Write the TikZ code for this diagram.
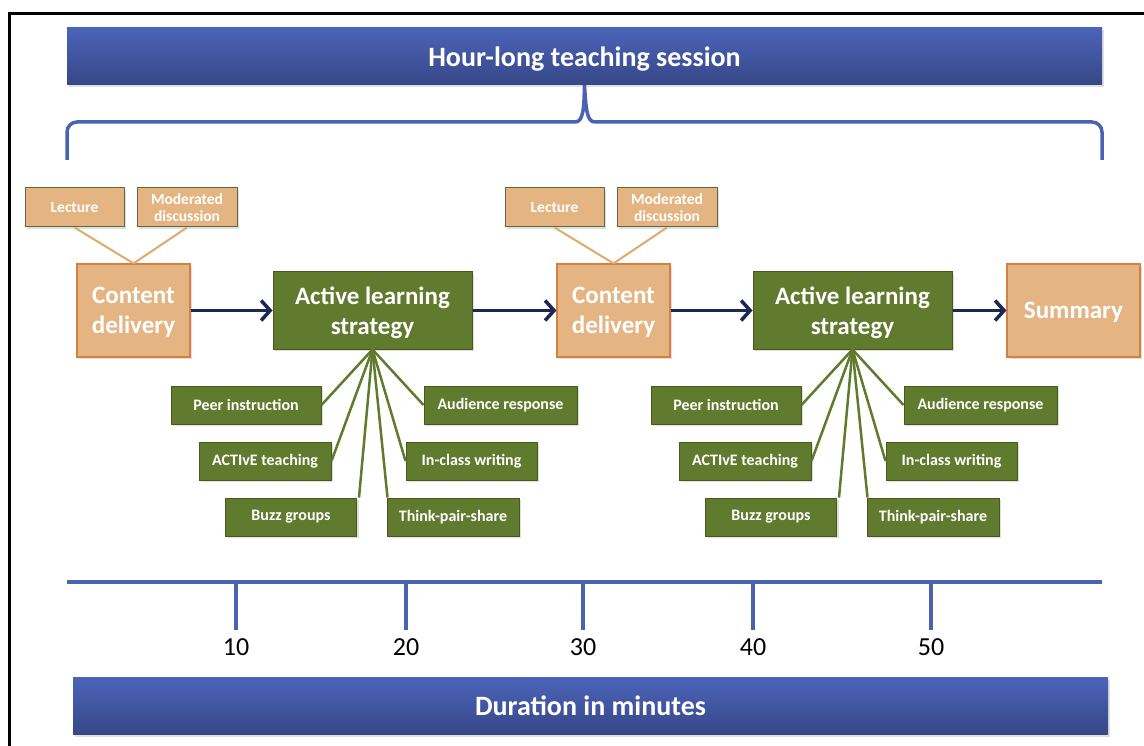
\documentclass[tikz,border=0pt]{standalone}
\usepackage{fontspec}
\setmainfont{Carlito}
\usetikzlibrary{arrows.meta,shadows}

\definecolor{barTop}{HTML}{4B64B9}
\definecolor{barBot}{HTML}{374787}
\definecolor{barLine}{HTML}{4A62B0}
\definecolor{tanFill}{HTML}{E4B582}
\definecolor{tanEdge}{HTML}{D68040}
\definecolor{tanLine}{HTML}{DEAA6E}
\definecolor{oliveEdge}{HTML}{5E6B34}
\definecolor{greenFill}{HTML}{607A2E}
\definecolor{greenEdge}{HTML}{465A1E}
\definecolor{navyArrow}{HTML}{1E2652}

\begin{document}
\begin{tikzpicture}[x=1pt,y=-1pt,
    shade/.style={drop shadow={shadow xshift=2pt,shadow yshift=-2pt,opacity=.25}},
    bar/.style={top color=barTop,bottom color=barBot,draw=none,shade,
      minimum width=1035pt,minimum height=57pt,inner sep=0pt,text depth=0pt,
      text=white,font=\fontsize{28}{32}\selectfont\bfseries},
    option/.style={fill=tanFill,draw=oliveEdge,line width=1pt,shade,
      minimum width=99pt,minimum height=39pt,inner sep=0pt,align=center,
      text=white,font=\fontsize{15.5}{18}\selectfont\bfseries},
    phase/.style={fill=tanFill,draw=tanEdge,line width=1.2pt,shade,
      minimum width=113pt,minimum height=93pt,inner sep=0pt,align=center,
      text depth=0pt,text=white,font=\fontsize{25}{29.5}\selectfont\bfseries},
    active/.style={fill=greenFill,draw=greenEdge,line width=1pt,shade,
      minimum width=199pt,minimum height=77pt,inner sep=0pt,align=center,
      text depth=0pt,text=white,font=\fontsize{25}{29.5}\selectfont\bfseries},
    method/.style={fill=greenFill,draw=greenEdge,line width=1pt,shade,
      minimum height=38pt,inner sep=0pt,
      text=white,font=\fontsize{16}{19}\selectfont\bfseries},
    flow/.style={navyArrow,line width=3.5pt,-{Straight Barb[length=9pt,width=20pt]}},
    spoke/.style={greenFill,line width=2.5pt},
    feed/.style={tanLine,line width=2pt}]
  \clip (0,0) rectangle (1144,746);
  \fill[white] (0,0) rectangle (1144,746);
  \draw[line width=3pt] (9.5,13.5) rectangle (1170,770);

  % session header and its brace
  \node[bar] (session) at (584.5,56.5) {Hour-long teaching session};
  \draw[barLine,line width=3.5pt,rounded corners=10pt] (67,160) |- (575,122);
  \draw[barLine,line width=3.5pt] (575,122) .. controls (583,122) and (584,110) .. (session.south)
    .. controls (586,110) and (587,122) .. (595,122);
  \draw[barLine,line width=3.5pt,rounded corners=10pt] (595,122) -| (1102,160);

  % the two content / active learning pairs
  \foreach \i/\dx in {1/0,2/480}{
    \node[option] (lec\i) at (74.5+\dx,207.5) {Lecture};
    \node[option,minimum width=100pt,text depth=0pt] (mod\i) at (187+\dx,207.5)
      {Moderated\\[-1pt]discussion};
    \node[phase] (cd\i) at (133.5+\dx,310.5) {Content\\delivery};
    \node[active] (als\i) at (372.5+\dx,310.5) {Active learning\\strategy};
    \draw[feed] (lec\i.south) -- (cd\i.north);
    \draw[feed] (mod\i.south) -- (cd\i.north);
    \draw[flow] (cd\i) -- (als\i);

    \node[method,minimum width=150pt] (peer\i) at (246+\dx,405) {Peer instruction};
    \node[method,minimum width=153pt] (aud\i) at (500.5+\dx,405) {Audience response};
    \node[method,minimum width=132pt] (actv\i) at (265+\dx,461) {ACTIvE teaching};
    \node[method,minimum width=131pt] (icw\i) at (471.5+\dx,461) {In-class writing};
    \node[method,minimum width=131pt] (buzz\i) at (291+\dx,517) {Buzz groups};
    \node[method,minimum width=132pt] (tps\i) at (453+\dx,517) {Think-pair-share};
    \draw[spoke] (als\i.south) -- (peer\i.east);
    \draw[spoke] (als\i.south) -- (aud\i.west);
    \draw[spoke] (als\i.south) -- (actv\i.east);
    \draw[spoke] (als\i.south) -- (icw\i.west);
    \draw[spoke] (als\i.south) -- ([xshift=2pt]buzz\i.north east);
    \draw[spoke] (als\i.south) -- ([xshift=1pt]tps\i.north west);
  }
  \draw[flow] (als1) -- (cd2);
  \node[phase,minimum width=133pt] (summary) at (1073.5,310.5) {Summary};
  \draw[flow] (als2) -- (summary);

  % time axis
  \draw[barLine,line width=3.5pt] (67,582) -- (1102,582);
  \foreach \t/\m in {236/10,406/20,583/30,753/40,931/50}
    \draw[barLine,line width=3.5pt] (\t,582) -- (\t,630)
      node[below=7pt,inner sep=0pt,black,font=\fontsize{26}{30}\selectfont] (min\m) {\m};
  \node[bar] (duration) at (590.5,706) {Duration in minutes};
\end{tikzpicture}
\end{document}
